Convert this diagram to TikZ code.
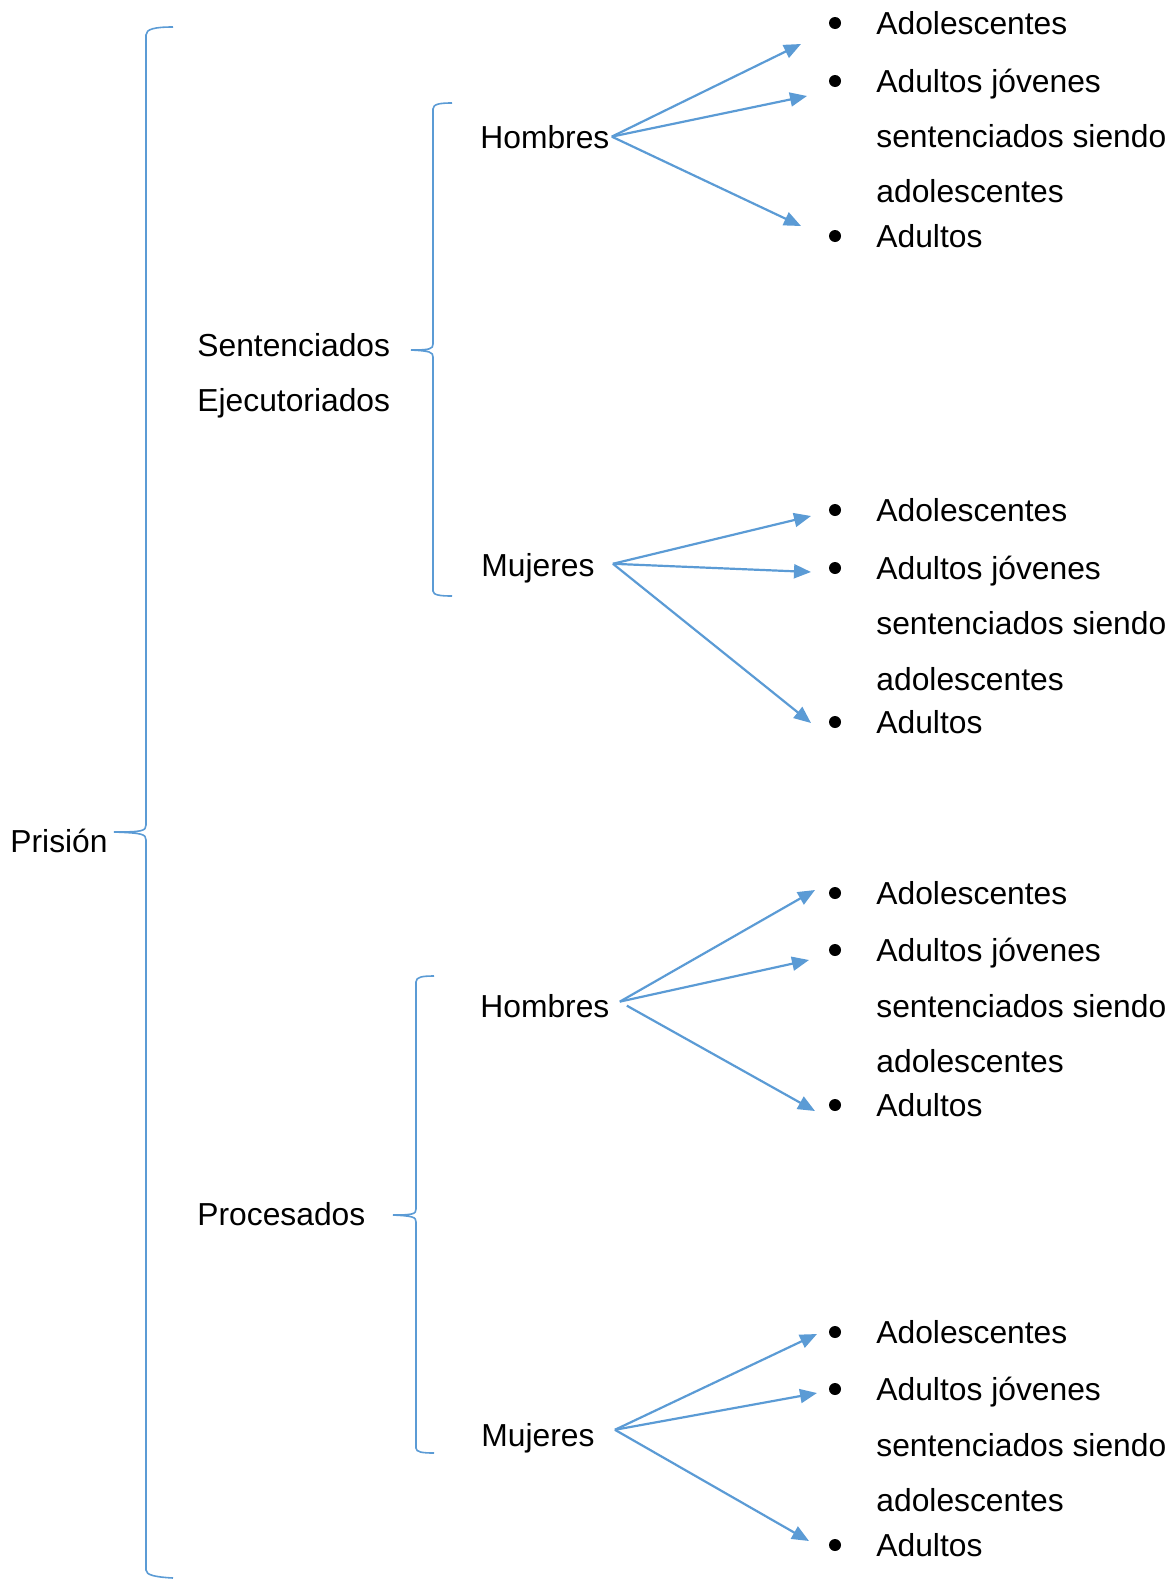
\documentclass[tikz,border=0pt]{standalone}
\usepackage{fontspec}
\setmainfont{Liberation Sans}
\usetikzlibrary{arrows.meta}
\definecolor{wordblue}{RGB}{91,155,213}

\tikzset{
    txt/.style={anchor=base west, inner sep=0pt, font=\fontsize{15.9}{19}\selectfont},
    dot/.style={circle, fill=black, inner sep=0pt, minimum size=6pt},
    arr/.style={draw=wordblue, line width=1.1pt, -{Triangle[length=8.5pt,width=7pt]}},
    bracket/.style={draw=wordblue, line width=0.8pt}
}

\begin{document}
\begin{tikzpicture}[x=0.5pt, y=-0.5pt]
    \useasboundingbox (0,0) rectangle (1173,1579);

    % Raiz
    \node[txt] (prision) at (10,852) {Prisión};

    % Llave grande
    \draw[bracket] (173,27) .. controls (155,27) and (146,29) .. (146,35)
        -- (146,825) .. controls (146,831) and (142,832) .. (114,832)
        .. controls (142,833) and (146,834) .. (146,840)
        -- (146,1570) .. controls (146,1575) and (155,1577) .. (173,1578);

    % Segundo nivel
    \node[txt] (sent) at (197,356) {Sentenciados};
    \node[txt] (ejec) at (197,411) {Ejecutoriados};
    \node[txt] (proc) at (197,1225) {Procesados};

    % Llave sentenciados
    \draw[bracket] (452,103) .. controls (440,103) and (433,104) .. (433,109)
        -- (433,344) .. controls (433,349) and (430,350) .. (411,350)
        .. controls (430,351) and (433,352) .. (433,357)
        -- (433,591) .. controls (433,595) and (440,596) .. (452,596);

    % Llave procesados
    \draw[bracket] (434,976) .. controls (422,976) and (416,977) .. (416,982)
        -- (416,1209) .. controls (416,1214) and (413,1215) .. (393,1215)
        .. controls (413,1216) and (416,1217) .. (416,1222)
        -- (416,1448) .. controls (416,1452) and (422,1453) .. (434,1453);

    % Tercer nivel
    \node[txt] (hom1) at (480,148) {Hombres};
    \node[txt] (muj1) at (481,576) {Mujeres};
    \node[txt] (hom2) at (480,1017) {Hombres};
    \node[txt] (muj2) at (481,1446) {Mujeres};

    % Lista hombres sentenciados
    \node[dot] (b1a) at (835,23) {};
    \node[dot] (b1b) at (835,81) {};
    \node[dot] (b1c) at (835,236) {};
    \node[txt] (l1a) at (876,34) {Adolescentes};
    \node[txt] (l1b) at (876,92) {Adultos jóvenes};
    \node[txt] (l1c) at (876,147) {sentenciados siendo};
    \node[txt] (l1d) at (876,202) {adolescentes};
    \node[txt] (l1e) at (876,247) {Adultos};

    % Lista mujeres sentenciadas
    \node[dot] (b2a) at (835,510) {};
    \node[dot] (b2b) at (835,568) {};
    \node[dot] (b2c) at (835,722) {};
    \node[txt] (l2a) at (876,521) {Adolescentes};
    \node[txt] (l2b) at (876,579) {Adultos jóvenes};
    \node[txt] (l2c) at (876,634) {sentenciados siendo};
    \node[txt] (l2d) at (876,690) {adolescentes};
    \node[txt] (l2e) at (876,733) {Adultos};

    % Lista hombres procesados
    \node[dot] (b3a) at (835,893) {};
    \node[dot] (b3b) at (835,950) {};
    \node[dot] (b3c) at (835,1105) {};
    \node[txt] (l3a) at (876,904) {Adolescentes};
    \node[txt] (l3b) at (876,961) {Adultos jóvenes};
    \node[txt] (l3c) at (876,1017) {sentenciados siendo};
    \node[txt] (l3d) at (876,1072) {adolescentes};
    \node[txt] (l3e) at (876,1116) {Adultos};

    % Lista mujeres procesadas
    \node[dot] (b4a) at (835,1332) {};
    \node[dot] (b4b) at (835,1389) {};
    \node[dot] (b4c) at (835,1545) {};
    \node[txt] (l4a) at (876,1343) {Adolescentes};
    \node[txt] (l4b) at (876,1400) {Adultos jóvenes};
    \node[txt] (l4c) at (876,1456) {sentenciados siendo};
    \node[txt] (l4d) at (876,1511) {adolescentes};
    \node[txt] (l4e) at (876,1556) {Adultos};

    % Puntas de flecha
    \coordinate (e1a) at (801,44);
    \coordinate (e1b) at (807,96);
    \coordinate (e1c) at (801,226);
    \coordinate (e2a) at (811,516);
    \coordinate (e2b) at (811,572);
    \coordinate (e2c) at (811,723);
    \coordinate (e3a) at (815,890);
    \coordinate (e3b) at (809,960);
    \coordinate (e3c) at (815,1111);
    \coordinate (e4a) at (817,1334);
    \coordinate (e4b) at (817,1393);
    \coordinate (e4c) at (809,1541);

    % Flechas
    \draw[arr] ([xshift=1pt]hom1.east) -- (e1a);
    \draw[arr] ([xshift=1pt]hom1.east) -- (e1b);
    \draw[arr] ([xshift=1pt]hom1.east) -- (e1c);
    \draw[arr] ([shift={(18,-4)}]muj1.east) -- (e2a);
    \draw[arr] ([shift={(18,-4)}]muj1.east) -- (e2b);
    \draw[arr] ([shift={(18,-4)}]muj1.east) -- (e2c);
    \draw[arr] ([shift={(10,-4)}]hom2.east) -- (e3a);
    \draw[arr] ([shift={(10,-4)}]hom2.east) -- (e3b);
    \draw[arr] ([shift={(17,0)}]hom2.east) -- (e3c);
    \draw[arr] ([shift={(20,-8)}]muj2.east) -- (e4a);
    \draw[arr] ([shift={(20,-8)}]muj2.east) -- (e4b);
    \draw[arr] ([shift={(20,-8)}]muj2.east) -- (e4c);
\end{tikzpicture}
\end{document}
